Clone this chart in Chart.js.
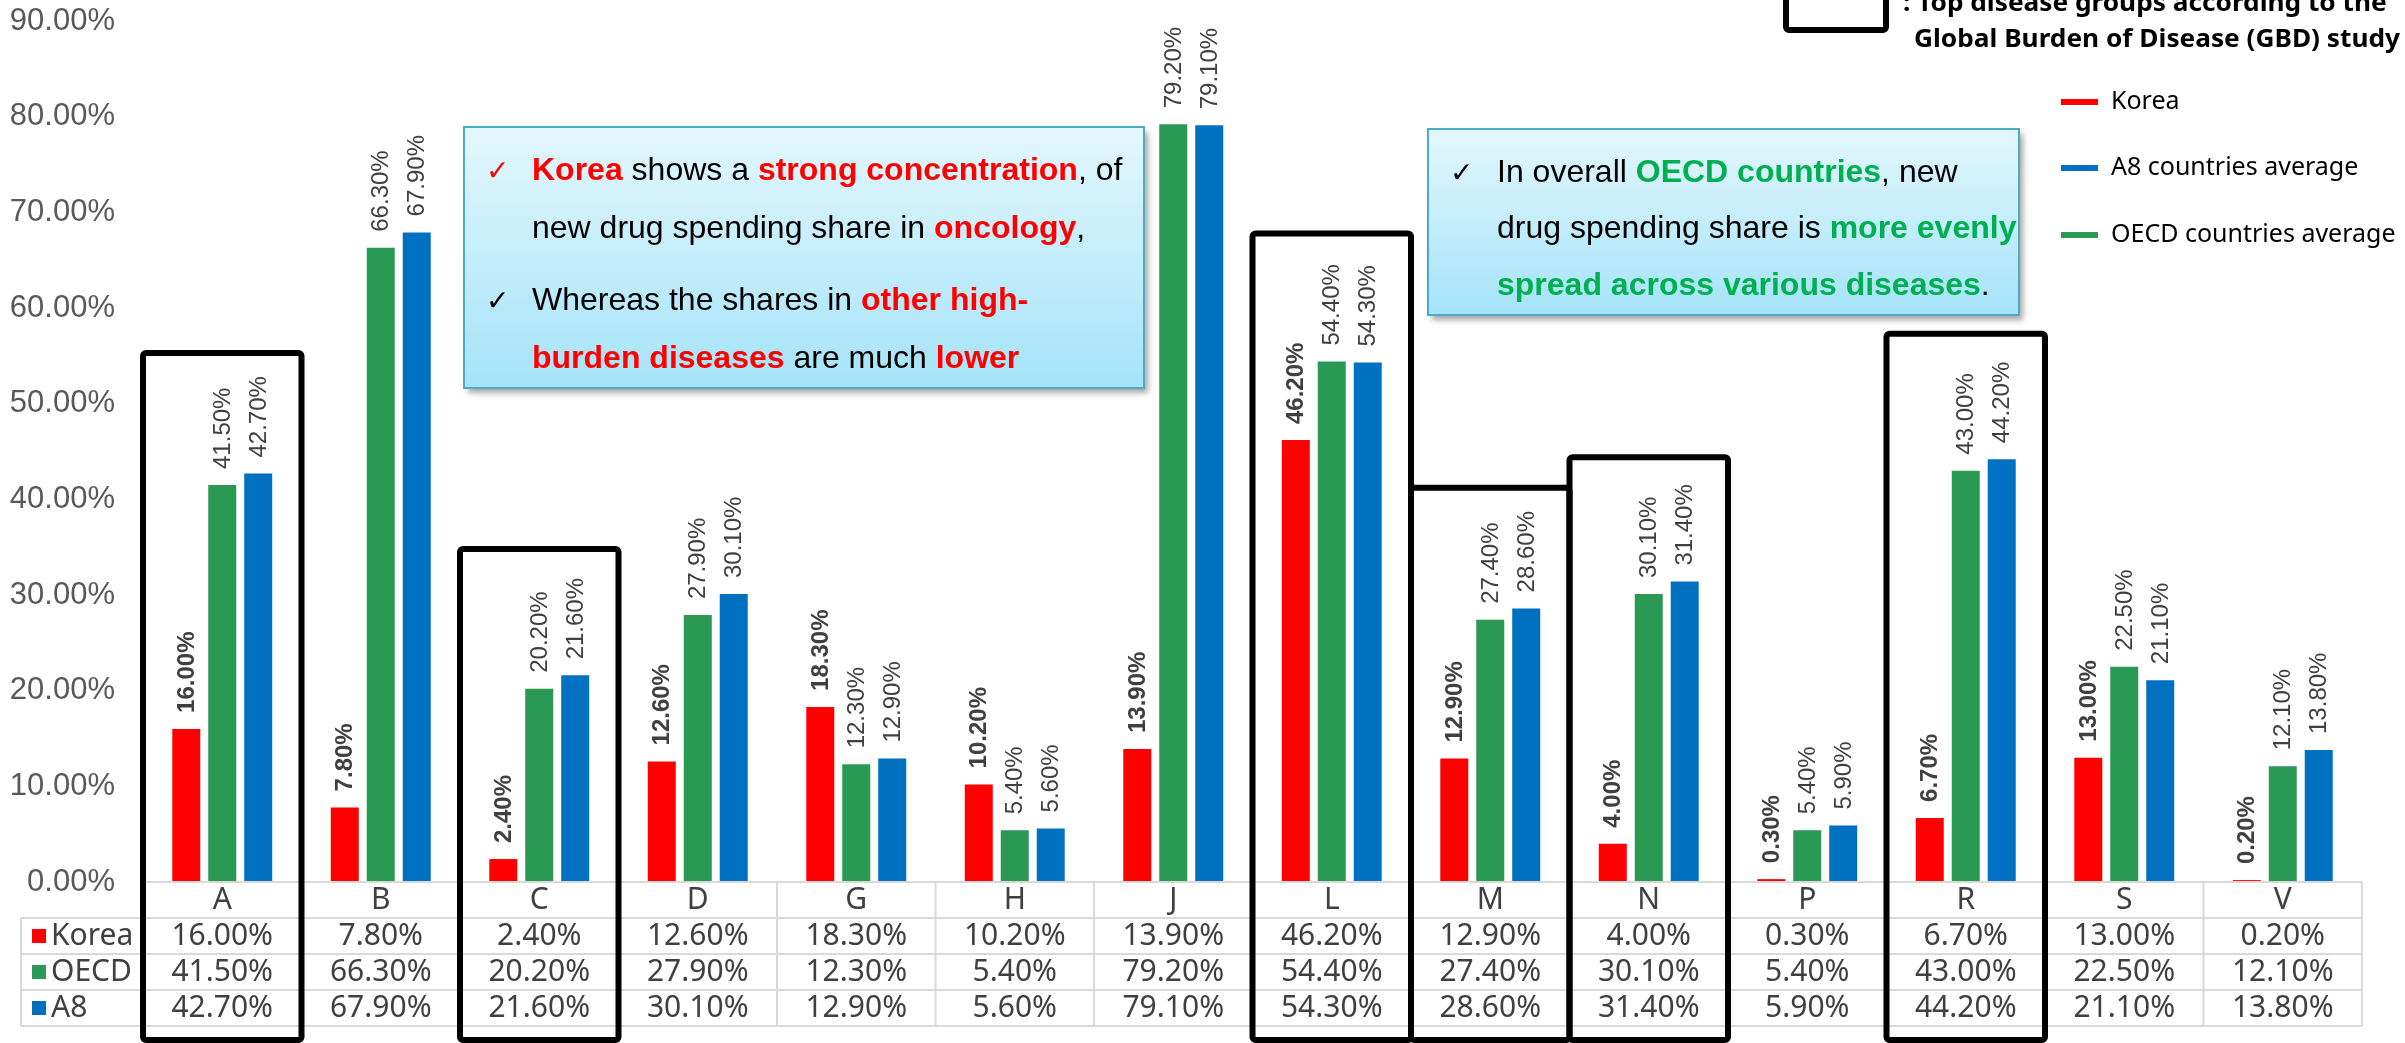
<!DOCTYPE html>
<html>
<head>
<meta charset="utf-8">
<script src="https://cdn.jsdelivr.net/npm/chart.js@4.4.1/dist/chart.umd.min.js"></script>
<style>
    html, body { margin: 0; padding: 0; background: #fff; }
    #wrap { position: relative; width: 2405px; height: 1043px; overflow: hidden; }
</style>
</head>
<body>
<div id="wrap"><canvas id="chart" width="2405" height="1043"></canvas></div>
<script>
// disease group codes and the three series (percent share of new drug spending)
const categories = ['A', 'B', 'C', 'D', 'G', 'H', 'J', 'L', 'M', 'N', 'P', 'R', 'S', 'V']
const korea = [16.0, 7.8, 2.4, 12.6, 18.3, 10.2, 13.9, 46.2, 12.9, 4.0, 0.3, 6.7, 13.0, 0.2]
const oecd = [41.5, 66.3, 20.2, 27.9, 12.3, 5.4, 79.2, 54.4, 27.4, 30.1, 5.4, 43.0, 22.5, 12.1]
const a8 = [42.7, 67.9, 21.6, 30.1, 12.9, 5.6, 79.1, 54.3, 28.6, 31.4, 5.9, 44.2, 21.1, 13.8]
const yMax = 90
const yStep = 10

// GBD top disease groups, boxed, and the value where each box starts
const gbdCats = ['A', 'C', 'L', 'M', 'N', 'R']
const gbdTop = [55.3, 34.8, 67.8, 41.2, 44.4, 57.3]

const rowNames = ['Korea', 'OECD', 'A8']
const legendNames = ['Korea', 'A8 countries average', 'OECD countries average']
const gbdText = [': Top disease groups according to the', 'Global Burden of Disease (GBD) study']

const RED = '#ff0000', GREEN = '#2a9954', BLUE = '#0070c0'
const HI_RED = '#ff0000', HI_GREEN = '#00b050'

// annotation text: [text, bold, color]
const noteKorea = [
    [['Korea', 1, HI_RED], [' shows a ', 0, '#000'], ['strong concentration', 1, HI_RED], [', of', 0, '#000']],
    [['new drug spending share in ', 0, '#000'], ['oncology', 1, HI_RED], [',', 0, '#000']],
    [['Whereas the shares in ', 0, '#000'], ['other high-', 1, HI_RED]],
    [['burden diseases', 1, HI_RED], [' are much ', 0, '#000'], ['lower', 1, HI_RED]],
]
const noteOecd = [
    [['In overall ', 0, '#000'], ['OECD countries', 1, HI_GREEN], [', new', 0, '#000']],
    [['drug spending share is ', 0, '#000'], ['more evenly', 1, HI_GREEN]],
    [['spread across various diseases', 1, HI_GREEN], ['.', 0, '#000']],
]

const ARIAL = '"Liberation Sans", Arial, sans-serif'
const NOTO = '"Noto Sans", "Open Sans", sans-serif'

let drawRich = (ctx, x, y, parts, size) => {
    for (let [txt, bold, color] of parts) {
        ctx.font = `${bold ? 'bold ' : ''}${size}px ${ARIAL}`
        ctx.fillStyle = color
        ctx.fillText(txt, x, y)
        x += ctx.measureText(txt).width
    }
}

let drawNote = (ctx, box, lines, checks) => {
    ctx.save()
    ctx.shadowColor = 'rgba(0,0,0,0.35)'
    ctx.shadowOffsetX = 4
    ctx.shadowOffsetY = 5
    ctx.shadowBlur = 6
    let grad = ctx.createLinearGradient(0, box.y, 0, box.y + box.h)
    grad.addColorStop(0, '#e3f7fd')
    grad.addColorStop(1, '#a5e3f8')
    ctx.fillStyle = grad
    ctx.fillRect(box.x, box.y, box.w, box.h)
    ctx.restore()
    ctx.strokeStyle = '#4bacc6'
    ctx.lineWidth = 2
    ctx.strokeRect(box.x, box.y, box.w, box.h)

    ctx.textBaseline = 'alphabetic'
    ctx.textAlign = 'left'
    lines.forEach((parts, i) => {
        let base = box.y + box.base[i]
        if (checks[i]) {
            ctx.font = `28px "DejaVu Sans"`
            ctx.fillStyle = checks[i]
            ctx.fillText('\u2713', box.x + box.cx, base)
        }
        drawRich(ctx, box.x + box.tx, base, parts, 32)
    })
}

const overlay = {
    id: 'overlay',
    afterDatasetsDraw(chart) {
        let ctx = chart.ctx
        let x = chart.scales.x
        let y = chart.scales.y
        let area = chart.chartArea
        let half = (x.getPixelForValue(1) - x.getPixelForValue(0)) / 2

        // value labels, rotated, above each bar
        ctx.save()
        chart.data.datasets.forEach((ds, di) => {
            chart.getDatasetMeta(di).data.forEach((bar, i) => {
                ctx.save()
                ctx.translate(bar.x, bar.y - 16)
                ctx.rotate(-Math.PI / 2)
                ctx.font = `${di === 0 ? 'bold ' : ''}24px ${ARIAL}`
                ctx.fillStyle = '#404040'
                ctx.textAlign = 'left'
                ctx.textBaseline = 'middle'
                ctx.fillText(ds.data[i].toFixed(2) + '%', 0, 1)
                ctx.restore()
            })
        })
        ctx.restore()

        // data table under the axis
        let rowH = 36
        let top = area.bottom
        let bottom = top + rowH * 4
        let labelLeft = 21
        ctx.save()
        ctx.strokeStyle = '#d9d9d9'
        ctx.lineWidth = 2
        ctx.beginPath()
        ctx.moveTo(area.left, top); ctx.lineTo(area.right, top)
        for (let r = 1; r <= 4; r++) {
            ctx.moveTo(labelLeft, top + r * rowH); ctx.lineTo(area.right, top + r * rowH)
        }
        ctx.moveTo(labelLeft, top + rowH); ctx.lineTo(labelLeft, bottom)
        for (let i = 0; i <= categories.length; i++) {
            let px = x.getPixelForValue(i) - half
            ctx.moveTo(px, top); ctx.lineTo(px, bottom)
        }
        ctx.stroke()

        ctx.fillStyle = '#404040'
        ctx.font = `30px ${NOTO}`
        ctx.textAlign = 'center'
        ctx.textBaseline = 'middle'
        let series = [korea, oecd, a8]
        categories.forEach((c, i) => {
            let cx = x.getPixelForValue(i)
            ctx.fillText(c, cx, top + rowH / 2)
            series.forEach((s, r) => {
                ctx.fillText(s[i].toFixed(2) + '%', cx, top + rowH * (r + 1.5))
            })
        })
        let colors = [RED, GREEN, BLUE]
        ctx.textAlign = 'left'
        rowNames.forEach((n, r) => {
            let cy = top + rowH * (r + 1.5)
            ctx.fillStyle = colors[r]
            ctx.fillRect(32, cy - 7, 14, 14)
            ctx.fillStyle = '#404040'
            ctx.fillText(n, 51, cy)
        })
        ctx.restore()

        // GBD boxes
        ctx.save()
        ctx.strokeStyle = '#000'
        ctx.lineWidth = 6
        ctx.lineJoin = 'round'
        gbdCats.forEach((c, k) => {
            let i = categories.indexOf(c)
            let cx = x.getPixelForValue(i)
            let ty = y.getPixelForValue(gbdTop[k])
            ctx.beginPath()
            ctx.roundRect(cx - half, ty, half * 2, 1040 - ty, 3)
            ctx.stroke()
        })
        ctx.restore()

        // annotation boxes
        drawNote(ctx, { x: 464, y: 127, w: 680, h: 261, cx: 22, tx: 68, base: [53, 111, 183, 241] }, noteKorea, [HI_RED, null, '#000', null])
        drawNote(ctx, { x: 1428, y: 129, w: 591, h: 186, cx: 22, tx: 69, base: [53, 109, 166] }, noteOecd, ['#000', null, null])

        // series legend
        ctx.save()
        let legColors = [RED, BLUE, GREEN]
        let legY = [102, 168, 235]
        ctx.font = `25px ${NOTO}`
        ctx.textBaseline = 'middle'
        ctx.textAlign = 'left'
        legendNames.forEach((n, k) => {
            ctx.fillStyle = legColors[k]
            ctx.fillRect(2061, legY[k] - 3, 37, 6)
            ctx.fillStyle = '#000'
            ctx.fillText(n, 2111, legY[k])
        })

        // GBD legend
        ctx.strokeStyle = '#000'
        ctx.lineWidth = 6
        ctx.beginPath()
        ctx.roundRect(1786, -20, 100, 50, 3)
        ctx.stroke()
        ctx.font = `bold 25px ${NOTO}`
        ctx.fillStyle = '#000'
        ctx.textBaseline = 'alphabetic'
        let sx = 486 / ctx.measureText(gbdText[1]).width
        let gx = [1903, 1914], gy = [11, 47]
        gbdText.forEach((t, k) => {
            ctx.save()
            ctx.translate(gx[k], gy[k])
            ctx.scale(sx, 1)
            ctx.fillText(t, 0, 0)
            ctx.restore()
        })
        ctx.restore()
    }
}

window.addEventListener('load', () => {
    new Chart(document.getElementById('chart'), {
        type: 'bar',
        data: {
            labels: categories,
            datasets: [
                { label: 'Korea', data: korea, backgroundColor: RED },
                { label: 'OECD', data: oecd, backgroundColor: GREEN },
                { label: 'A8', data: a8, backgroundColor: BLUE },
            ]
        },
        options: {
            responsive: false,
            animation: false,
            devicePixelRatio: 1,
            categoryPercentage: 0.681,
            barPercentage: 0.778,
            layout: { padding: { top: 21, right: 43, bottom: 161, left: 0 } },
            plugins: { legend: { display: false }, tooltip: { enabled: false } },
            scales: {
                x: { display: false },
                y: {
                    min: 0,
                    max: yMax,
                    border: { display: false },
                    // invisible tick marks push the labels away from the plot
                    grid: { drawOnChartArea: false, drawTicks: true, tickLength: 28, tickColor: 'rgba(0,0,0,0)' },
                    ticks: {
                        stepSize: yStep,
                        padding: 0,
                        color: '#595959',
                        font: { family: ARIAL, size: 31 },
                        callback: (v) => v.toFixed(2) + '%'
                    },
                    afterFit: (scale) => { scale.width = 143 }
                }
            }
        },
        plugins: [overlay]
    })
})
</script>
</body>
</html>
